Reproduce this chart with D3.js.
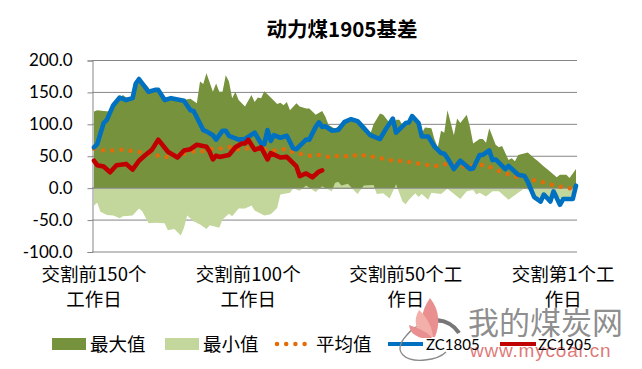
<!DOCTYPE html>
<html>
<head>
<meta charset="utf-8">
<script src="https://cdn.jsdelivr.net/npm/d3@7"></script>
<style>
  html, body { margin: 0; padding: 0; background: #fff; }
  svg { display: block; }
  .ytick text { font-family: Lato, "Liberation Sans", sans-serif; font-size: 17px; fill: #000; }
  .cn { font-family: "Noto Sans CJK SC", sans-serif; fill: #000; }
</style>
</head>
<body>
<div id="chart"></div>
<script>
const maxDays = [0, 1, 3, 5, 6, 7, 9, 10, 12, 14, 16, 18, 20, 22, 24, 26, 28, 30, 32, 33, 34, 35, 37, 38, 39, 40, 41, 42, 43, 44, 45, 47, 49, 50, 51, 52, 53, 55, 57, 58, 59, 60, 61, 63, 64, 66, 67, 69, 71, 72, 73, 75, 78, 80, 82, 84, 86, 87, 89, 90, 92, 93, 94, 95, 96, 98, 100, 102, 103, 105, 106, 107, 108, 109, 110, 112, 113, 114, 116, 117, 118, 120, 121, 122, 123, 125, 126, 127, 129, 130, 131, 132, 135, 137, 138, 140, 141, 144, 145, 147, 148, 150];
const maxValues = [120, 122, 121, 120, 128, 135, 146, 142, 142, 170, 163, 151, 154, 139, 142, 141, 138, 140, 133, 167, 163, 180, 151, 164, 151, 151, 177, 167, 141, 151, 138, 128, 146, 135, 142, 141, 152, 142, 132, 134, 130, 135, 122, 133, 128, 125, 125, 115, 121, 112, 99, 93, 105, 107, 105, 97, 85, 100, 117, 115, 102, 100, 107, 107, 99, 104, 109, 86, 95, 94, 76, 64, 90, 87, 122, 83, 109, 102, 115, 96, 70, 77, 77, 71, 94, 68, 64, 66, 44, 47, 42, 52, 56, 47, 43, 34, 30, 17, 21, 21, 16, 30];

const minDays = [0, 1, 2, 4, 6, 8, 9, 12, 14, 15, 17, 19, 22, 23, 25, 27, 28, 29, 31, 33, 35, 36, 39, 40, 42, 43, 45, 47, 49, 50, 53, 55, 57, 58, 61, 62, 64, 66, 69, 71, 74, 75, 76, 77, 79, 82, 84, 87, 88, 90, 92, 94, 96, 97, 98, 100, 101, 102, 104, 105, 108, 110, 114, 116, 118, 119, 120, 122, 124, 126, 129, 132, 134, 136, 138, 140, 142, 144, 146, 148, 150];
const minValues = [-27, -23, -37, -42, -43, -47, -44, -43, -32, -36, -55, -54, -55, -66, -64, -74, -62, -43, -52, -57, -64, -58, -62, -49, -40, -44, -32, -32, -27, -35, -43, -41, -31, -10, -7, 0, -4, 4, -6, 3, -5, 8, 10, 4, 7, -9, 4, 5, -9, -8, -16, 6, -21, -25, -18, -8, -14, -9, -18, -7, -9, -1, -17, -5, -3, -10, -7, -13, -5, -5, -18, -7, 0, -5, -16, -13, -18, -13, -18, -16, 0];

// average is read every 2nd day, the dots hide anything finer
const avgDays = d3.range(0, 151, 2);
const avgValues = [62, 60, 59, 59, 60, 60, 58, 57, 54, 52, 51, 49, 48, 50, 54, 57, 58, 58, 61, 62,
  62, 65, 60, 62, 62, 61, 60, 60, 59, 60, 62, 56, 54, 52, 50, 52, 50, 48, 51, 50,
  49, 53, 51, 50, 48, 46, 44, 43, 42, 41, 39, 38, 36, 34, 37, 38, 36, 34, 35, 36,
  37, 35, 32, 27, 23, 20, 17, 18, 14, 11, 9, 6, 3, 2, 0, 1];

const zc1805Days = [0, 1, 3, 4, 6, 8, 10, 12, 13, 14, 17, 19, 20, 22, 24, 28, 30, 31, 34, 35, 37, 38, 40, 41, 42, 45, 47, 50, 52, 53, 54, 55, 56, 58, 60, 62, 63, 66, 67, 69, 70, 71, 72, 74, 76, 78, 80, 82, 84, 86, 89, 91, 93, 94, 97, 98, 99, 101, 102, 104, 106, 108, 109, 110, 112, 114, 117, 118, 120, 121, 123, 124, 125, 128, 129, 132, 134, 135, 137, 139, 140, 142, 143, 145, 146, 149, 150];
const zc1805 = [64, 69, 102, 107, 130, 142, 138, 141, 164, 171, 151, 154, 154, 138, 141, 137, 122, 121, 91, 89, 83, 76, 90, 90, 82, 76, 77, 87, 70, 69, 91, 74, 83, 79, 82, 62, 61, 76, 76, 96, 103, 96, 97, 90, 91, 104, 108, 105, 94, 83, 77, 94, 109, 87, 102, 103, 113, 102, 81, 81, 65, 55, 54, 47, 30, 43, 30, 31, 52, 52, 59, 44, 45, 30, 35, 21, 19, 10, -14, -21, -10, -21, -5, -26, -17, -17, 4];

const zc1905Days = [0, 1, 3, 5, 7, 10, 12, 14, 16, 18, 20, 23, 26, 28, 30, 32, 35, 36, 37, 38, 39, 42, 44, 46, 47, 48, 50, 52, 54, 55, 58, 60, 63, 64, 66, 68, 70, 71];
const zc1905 = [43, 36, 34, 25, 36, 38, 29, 43, 52, 60, 76, 57, 48, 59, 61, 68, 65, 57, 45, 51, 49, 52, 64, 70, 70, 76, 60, 64, 45, 55, 48, 49, 34, 19, 23, 17, 26, 28];

const yTicks = [200, 150, 100, 50, 0, -50, -100];
const xLabelDays = [0, 48, 97, 146];
const xLabels = [["交割前150个", "工作日"], ["交割前100个", "工作日"], ["交割前50个工", "作日"], ["交割第1个工", "作日"]];

const OLIVE = "#76923c", LIGHT = "#c3d69b", ORANGE = "#e36c09", BLUE = "#0070c0", RED = "#c00000", GRID = "#868686";

const width = 642, height = 369;
const svg = d3.select("#chart").append("svg").attr("width", width).attr("height", height);

const x = d3.scaleLinear().domain([0, 150]).range([94, 576]);
const y = d3.scaleLinear().domain([-100, 200]).range([252, 60.5]);

// gridlines sit behind the areas
svg.append("g").selectAll("line").data(yTicks).join("line")
  .attr("x1", 92).attr("x2", 577)
  .attr("y1", (d) => y(d)).attr("y2", (d) => y(d))
  .attr("stroke", GRID).attr("stroke-width", 1);

const band = (days, values) => d3.area().x((d, i) => x(days[i])).y0(y(0)).y1((d) => y(d))(values);
const trace = (days, values) => d3.line().x((d, i) => x(days[i])).y((d) => y(d))(values);

svg.append("path").attr("d", band(maxDays, maxValues)).attr("fill", OLIVE);
svg.append("path").attr("d", band(minDays, minValues)).attr("fill", LIGHT);

// zero line is on top of the areas
svg.append("line").attr("x1", 92).attr("x2", 577).attr("y1", y(0)).attr("y2", y(0))
  .attr("stroke", GRID).attr("stroke-width", 1);

const yAxis = d3.axisLeft(y).tickValues(yTicks).tickFormat((d) => d.toFixed(1)).tickSize(5).tickPadding(15);
const yG = svg.append("g").attr("class", "ytick").attr("transform", "translate(92.5,0)").call(yAxis);
yG.selectAll("path,line").attr("stroke", GRID);

svg.append("path").attr("d", trace(avgDays, avgValues)).attr("fill", "none").attr("stroke", ORANGE)
  .attr("stroke-width", 4.5).attr("stroke-linecap", "round").attr("stroke-dasharray", "0 9.2");
svg.append("path").attr("d", trace(zc1805Days, zc1805)).attr("fill", "none").attr("stroke", BLUE)
  .attr("stroke-width", 4.6).attr("stroke-linejoin", "round").attr("stroke-linecap", "round");
svg.append("path").attr("d", trace(zc1905Days, zc1905)).attr("fill", "none").attr("stroke", RED)
  .attr("stroke-width", 4.6).attr("stroke-linejoin", "round").attr("stroke-linecap", "round");

// title
svg.append("text").attr("class", "cn").attr("x", 342).attr("y", 37).attr("text-anchor", "middle")
  .attr("font-size", 20.5).attr("font-weight", "bold").text("动力煤1905基差");

// x labels wrap onto two lines like the original
xLabels.forEach((lines, i) => {
  const t = svg.append("text").attr("class", "cn").attr("text-anchor", "middle").attr("font-size", 18.5);
  lines.forEach((s, j) => {
    t.append("tspan").attr("x", x(xLabelDays[i])).attr("y", 281 + j * 24.5).text(s);
  });
});

// legend
const legendY = 344;
const legend = svg.append("g");
legend.append("rect").attr("x", 52).attr("y", legendY - 6).attr("width", 34).attr("height", 12).attr("fill", OLIVE);
legend.append("rect").attr("x", 165).attr("y", legendY - 6).attr("width", 34).attr("height", 12).attr("fill", LIGHT);
legend.append("line").attr("x1", 277).attr("x2", 310).attr("y1", legendY).attr("y2", legendY)
  .attr("stroke", ORANGE).attr("stroke-width", 4.5).attr("stroke-linecap", "round").attr("stroke-dasharray", "0 9.2");
legend.append("line").attr("x1", 388).attr("x2", 423).attr("y1", legendY).attr("y2", legendY)
  .attr("stroke", BLUE).attr("stroke-width", 4.2);
legend.append("line").attr("x1", 500).attr("x2", 536).attr("y1", legendY).attr("y2", legendY)
  .attr("stroke", RED).attr("stroke-width", 4.2);
[["最大值", 90], ["最小值", 203], ["平均值", 316]].forEach(([s, lx]) => {
  legend.append("text").attr("class", "cn").attr("x", lx).attr("y", legendY + 7).attr("font-size", 18.5).text(s);
});

// site watermark, the legend names stay readable on top of the logo
const mark = svg.append("g");
mark.append("path").attr("d", "M460 332 C448 318 420 318 406 336 C392 352 405 362 425 360 C435 359 442 356 446 352")
  .attr("fill", "none").attr("stroke", "#8a8a8a").attr("stroke-width", 1.3);
mark.append("path").attr("d", "M459 333 C454 325 446 321 437 320").attr("fill", "none").attr("stroke", "#777").attr("stroke-width", 4);
mark.append("path").attr("d", "M430 298 C440 310 440 325 435 337 L428 337 C420 325 420 312 430 298 Z").attr("fill", "#ea8f8f");
mark.append("path").attr("d", "M419 310 C428 318 432 328 433 337 L425 337 C415 330 413 320 419 310 Z").attr("fill", "#f3b0aa");
mark.append("path").attr("d", "M409 325 C418 328 428 332 432 338 L422 338 C414 336 410 332 409 325 Z").attr("fill", "#ea8f8f");
mark.append("text").attr("x", 468).attr("y", 334).attr("font-family", "\"Noto Sans CJK SC\", sans-serif")
  .attr("font-size", 31).attr("fill", "#7f7f7f").attr("fill-opacity", 0.9).text("我的煤炭网");
mark.append("text").attr("x", 470).attr("y", 357).attr("font-family", "\"Liberation Sans\", sans-serif")
  .attr("font-size", 19).attr("fill", "#d9605f").attr("fill-opacity", 0.85).attr("letter-spacing", 0.8).text("www.mycoal.cn");

[["ZC1805", 426], ["ZC1905", 538]].forEach(([s, lx]) => {
  svg.append("text").attr("x", lx).attr("y", legendY + 6).attr("font-family", "Lato, sans-serif")
    .attr("font-size", 15).attr("fill", "#000").text(s);
});
</script>
</body>
</html>
